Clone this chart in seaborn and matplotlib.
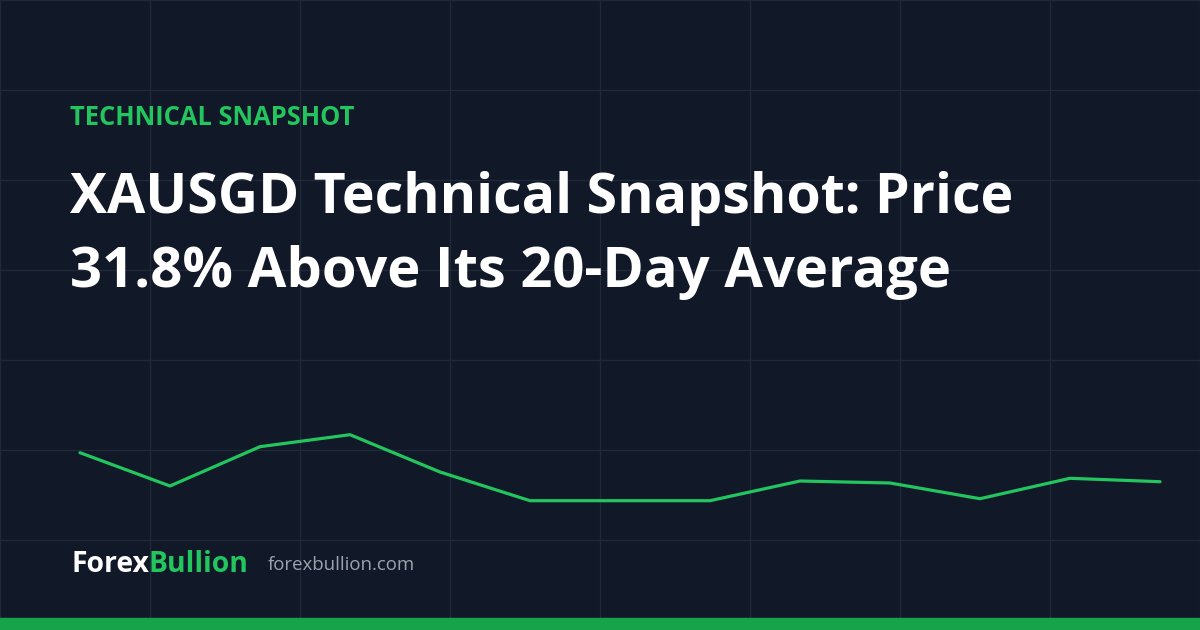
import matplotlib
matplotlib.use("Agg")
import matplotlib.pyplot as plt
import pandas as pd
import seaborn as sns

# XAUSGD closes (approximate, read from the sparkline)
days = list(range(13))
closes = [5574.6, 5508.0, 5586.6, 5610.6, 5536.0, 5478.6, 5478.6,
          5478.6, 5518.0, 5514.0, 5482.6, 5523.4, 5516.6]

kicker = "TECHNICAL SNAPSHOT"
title_lines = ["XAUSGD Technical Snapshot: Price",
               "31.8% Above Its 20-Day Average"]
brand_a, brand_b = "Forex", "Bullion"
site = "forexbullion.com"

bg = "#111827"
grid_c = "#1f2937"
green = "#22c55e"
bar_green = "#16a34a"

sns.set_style("dark")
plt.rcParams["font.family"] = ["Open Sans", "DejaVu Sans"]

fig = plt.figure(figsize=(12, 6.3), dpi=100)
fig.patch.set_facecolor(bg)

# background grid in pixel units
bgax = fig.add_axes([0, 0, 1, 1])
bgax.set_facecolor(bg)
bgax.set_xlim(0, 1200)
bgax.set_ylim(630, 0)
bgax.set_xticks(range(0, 1201, 150))
bgax.set_yticks(range(0, 631, 90))
bgax.grid(True, color=grid_c, linewidth=1)
bgax.tick_params(length=0, labelbottom=False, labelleft=False)
for s in bgax.spines.values():
    s.set_visible(False)

# price line
ax = fig.add_axes([0, 0, 1, 1])
ax.patch.set_alpha(0)
df = pd.DataFrame({"day": days, "close": closes})
sns.lineplot(data=df, x="day", y="close", ax=ax, color=green, linewidth=2.3)
ax.set_xlim(-80 / 90, 1120 / 90)
ax.set_ylim(5220, 6480)
ax.axis("off")

# text
bgax.text(70, 125, kicker, color=green, fontsize=18.4, fontweight="bold",
          va="baseline", ha="left")
bgax.text(70, 213, title_lines[0], color="white", fontsize=40, fontweight="bold",
          va="baseline", ha="left")
bgax.text(70, 286.5, title_lines[1], color="white", fontsize=40.4, fontweight="bold",
          va="baseline", ha="left")
t = bgax.text(71, 572, brand_a, color="white", fontsize=20.4, fontweight="bold",
              va="baseline", ha="left")
fig.canvas.draw()
bb = t.get_window_extent()
x2 = bgax.transData.inverted().transform((bb.x1, 0))[0]
bgax.text(x2, 572, brand_b, color=green, fontsize=20.4, fontweight="bold",
          va="baseline", ha="left")
bgax.text(268, 570, site, color="#9ca3af", fontsize=13.4,
          va="baseline", ha="left")

# bottom accent bar
bgax.axhspan(618, 630, color=bar_green, zorder=5)

fig.savefig("out.png", dpi=100, facecolor=bg)
